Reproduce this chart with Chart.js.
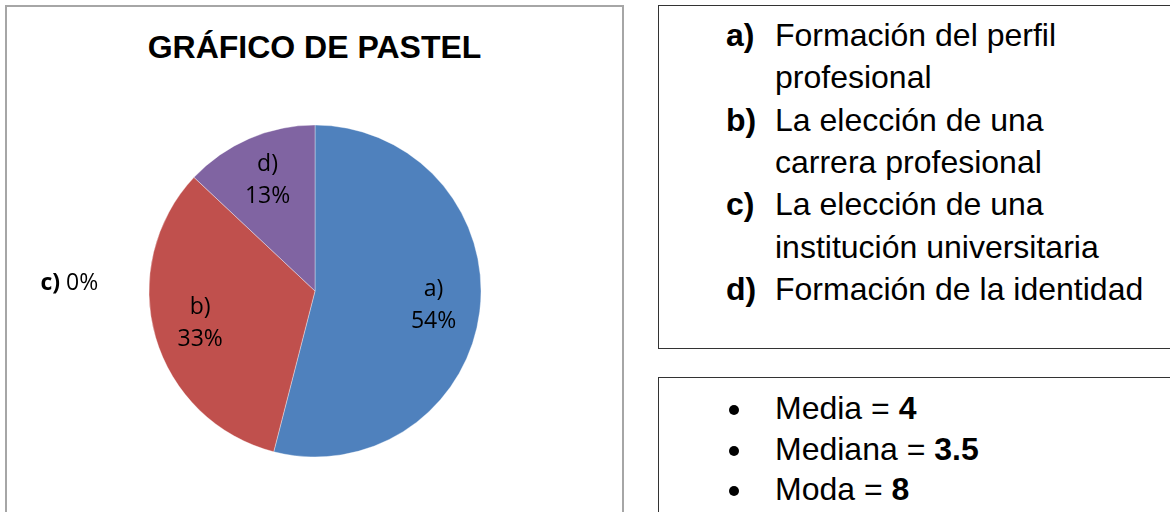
<!DOCTYPE html>
<html>
<head>
<meta charset="utf-8">
<script src="https://cdn.jsdelivr.net/npm/chart.js@4/dist/chart.umd.min.js"></script>
<style>
  html, body { margin: 0; padding: 0; background: #fff; }
  body { width: 1170px; height: 512px; position: relative; overflow: hidden; font-family: "Liberation Sans", Arial, sans-serif; color: #000; }
  .box { position: absolute; box-sizing: border-box; }
  #pieBox { left: 5px; top: 5px; width: 619px; height: 520px; border: 2px solid #a6a6a6; }
  #pieTitle { position: absolute; left: 5px; width: 619px; top: 27px; text-align: center; font-weight: bold; font-size: 32px; line-height: 40px; }
  #pieWrap { position: absolute; left: 7px; top: 7px; width: 615px; height: 505px; }
  #legendBox { left: 658px; top: 5px; width: 520px; height: 344px; border: 1px solid #333; }
  #statsBox { left: 658px; top: 377px; width: 520px; height: 150px; border: 1px solid #333; }
  .row { position: absolute; left: 775px; font-size: 32px; line-height: 42px; white-space: nowrap; }
  .tag { position: absolute; left: 726px; font-size: 32px; line-height: 42px; font-weight: bold; }
  .dot { position: absolute; left: 729px; width: 10px; height: 10px; border-radius: 50%; background: #000; }
</style>
</head>
<body>
<div class="box" id="pieBox"></div>
<div id="pieTitle">GRÁFICO DE PASTEL</div>
<div id="pieWrap"><canvas id="pie"></canvas></div>

<div class="box" id="legendBox"></div>
<div id="legendText"></div>

<div class="box" id="statsBox"></div>
<div id="statsText"></div>

<script>
// slice data
const sliceTags = ['a)', 'b)', 'c)', 'd)'];
const sliceValues = [54, 33, 0, 13];
const sliceColors = ['#4f81bd', '#c0504d', '#9bbb59', '#8064a2'];

// legend text on the right
const legendLines = [
  ['Formación del perfil', 'profesional'],
  ['La elección de una', 'carrera profesional'],
  ['La elección de una', 'institución universitaria'],
  ['Formación de la identidad']
];

// summary stats
const statNames = ['Media', 'Mediana', 'Moda'];
const statValues = ['4', '3.5', '8'];

function buildLegend() {
  const host = document.getElementById('legendText');
  let top = 14, html = '';
  legendLines.forEach((lines, i) => {
    html += `<div class="tag" style="top:${top}px">${sliceTags[i]}</div>`;
    lines.forEach(t => {
      html += `<div class="row" style="top:${top}px">${t}</div>`;
      top += 42.3;
    });
  });
  host.innerHTML = html;
}

function buildStats() {
  const host = document.getElementById('statsText');
  let top = 388, html = '';
  statNames.forEach((n, i) => {
    html += `<div class="dot" style="top:${top + 17}px"></div>`;
    html += `<div class="row" style="top:${top}px;line-height:40px">${n} = <b>${statValues[i]}</b></div>`;
    top += 40.5;
  });
  host.innerHTML = html;
}

// labels inside each slice, zero slices go out to the left
const sliceLabels = {
  id: 'sliceLabels',
  afterDatasetsDraw(chart) {
    const ctx = chart.ctx;
    const meta = chart.getDatasetMeta(0);
    const font = '23px "Open Sans"', bold = 'bold 23px "Open Sans"';
    ctx.save();
    ctx.fillStyle = '#000';
    ctx.textAlign = 'center';
    ctx.textBaseline = 'middle';
    meta.data.forEach((arc, i) => {
      const v = sliceValues[i];
      const { x, y, startAngle, endAngle, outerRadius } = arc.getProps(['x', 'y', 'startAngle', 'endAngle', 'outerRadius'], true);
      if (v === 0) {
        const lx = x - outerRadius * 1.48, ly = y - 8;
        ctx.font = bold;
        const w1 = ctx.measureText(sliceTags[i] + ' ').width;
        ctx.font = font;
        const w2 = ctx.measureText(v + '%').width;
        const left = lx - (w1 + w2) / 2;
        ctx.textAlign = 'left';
        ctx.font = bold;
        ctx.fillText(sliceTags[i], left, ly);
        ctx.font = font;
        ctx.fillText(v + '%', left + w1, ly);
        ctx.textAlign = 'center';
        return;
      }
      const mid = (startAngle + endAngle) / 2;
      const r = outerRadius * 0.72;
      const cx = x + Math.cos(mid) * r, cy = y + Math.sin(mid) * r;
      ctx.font = font;
      ctx.fillText(sliceTags[i], cx, cy - 17);
      ctx.fillText(v + '%', cx, cy + 15);
    });
    ctx.restore();
  }
};

buildLegend();
buildStats();

new Chart(document.getElementById('pie'), {
  type: 'pie',
  data: {
    labels: sliceTags,
    datasets: [{
      data: sliceValues,
      backgroundColor: sliceColors,
      borderColor: 'rgba(255,255,255,0.6)',
      borderWidth: 0.6,
      hoverOffset: 0,
      radius: 166
    }]
  },
  options: {
    responsive: true,
    maintainAspectRatio: false,
    animation: false,
    layout: { padding: { left: 142, right: 141, top: 118, bottom: 55 } },
    plugins: { legend: { display: false }, tooltip: { enabled: false }, title: { display: false } }
  },
  plugins: [sliceLabels]
});
</script>
</body>
</html>
